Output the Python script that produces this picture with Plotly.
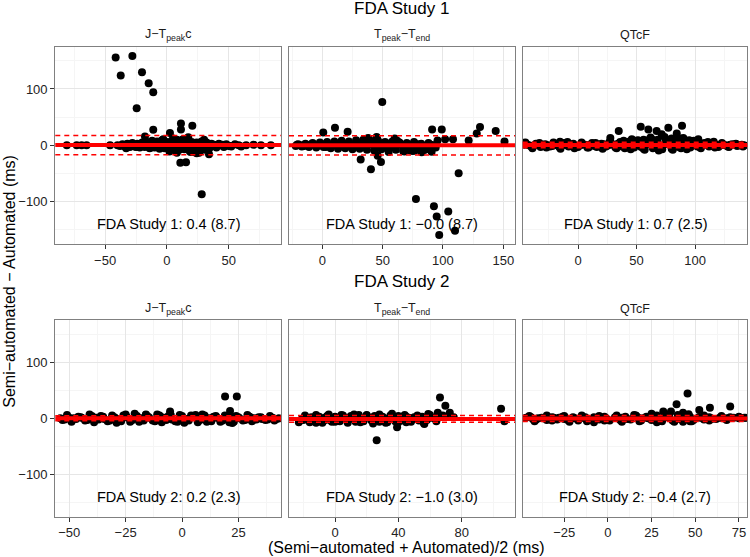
import plotly.graph_objects as go

# ---------------- data ----------------
# FDA Study 1, J-Tpeak c
j1_x = [-81, -73, -69, -65, -46,
        -36, -32, -28, -24, -20, -16, -12, -8, -4, 0, 4, 8, 12, 16, 20, 24, 28, 32, 36, 42, 48, 55,
        -34, -30, -26, -22, -18, -14, -10, -6, -2, 2, 6, 10, 14, 18, 22, 26, 30, 34, 40, 46, 52, 60,
        -40, -33, -27, -21, -15, -9, -3, 3, 9, 15, 21, 27, 33, 39, 45, 51, 58, 64, 70, 76, 84,
        -38, -31, -25, -19, -13, -7, -1, 5, 11, 17, 23, 29, 35, 38, 44, 50,
        5, 8, 13, 19, 24, 30, -3, 2, 28, 22, 26, -33, 34,
        -41.5, -37.4, -28, -20.2, -14.8, -11.1, -24.5, -11.1, -17.8, 2.4, 11.3, 11.3, 20.5, 17.2,
        10.8, 15.4, 28.1]
j1_y = [0, 0, 0, 0, 0,
        2, 3, 4, 3, 5, 6, 8, 7, 9, 6, 8, 10, 9, 7, 6, 5, 4, 5, 3, 3, 2, 2,
        -2, -3, -2, -4, -3, -5, -4, -6, -5, -7, -6, -8, -7, -9, -10, -11, -8, -6, -4, -3, -2, -2,
        0, 1, -1, 0, 1, -1, 2, -2, 1, 0, -1, 1, -2, 0, 1, -1, 0, 0, 1, 0, 0,
        -1, 2, -3, 3, -4, 4, -3, 5, -4, 4, -5, 3, -3, 1, 0, -1,
        12, -13, 11, -12, -14, 10, 11, -11, 7, -12, -13, -5, -16,
        155.7, 123.9, 158.6, 129.7, 110.3, 94.3, 66, 27.6, 15.9, 21.8, 38.9, 28.3, 34.7, 14.2,
        -30.8, -30.1, -86.7]

# FDA Study 1, Tpeak-Tend
tp1_x = [-20, -14, -8, -2, 4, 10, 16, 22, 28, 34, 40, 46, 52, 58, 64, 70, 76, 82, 88,
         -22, -17, -11, -5, 1, 7, 13, 19, 25, 31, 37, 43, 49, 55, 61, 67, 73, 79, 86, 94,
         -18, -10, -3, 5, 12, 20, 27, 35, 42, 50, 57, 65, 72, 80, 90,
         -21, -15, -9, -5, -1, 3, 9, 15, 21, 25, 29, 33, 39, 44, 47, 51, 55, 59, 63, 67, 71,
         75, 79, 84, 88, 92,
         38, 45, 55, 60, 68, 75, 83, 62, 85,
         0.8, 10.5, 21, 49.7, 31.8, 40.3, 45.9, 48.6, 91, 99, 77.6, 92.5, 94.8, 96.9, 104.4,
         110, 113, 121.3, 90.6, 128, 130.7, 143.7, 151, 101.8, 108.3, 95.5, 82.3, 76.8]
tp1_y = [2, 3, 4, 5, 6, 7, 8, 7, 9, 10, 8, 9, 6, 7, 5, 4, 6, 3, 4,
         -1, -2, -3, -4, -3, -5, -6, -5, -7, -6, -8, -9, -7, -6, -8, -10, -9, -5, -7, -4,
         0, 1, 0, -1, 1, 0, 2, -1, 1, 0, -2, 1, 0, -1, 1,
         1, -1, 2, -2, 3, -3, 2, -2, 3, -4, 4, -3, 4, -5, 5, -4, 3, -3, 2, -2, 1,
         -1, 2, -2, 1, 0,
         13, 15, -12, 12, -11, -10, -9, 8, -8,
         23, 31, 24, 77, -25, -42.5, -18.4, -29.6, 28, 28, -95, -108, -126, -159, -117.5,
         -151.7, -49.6, 8.8, -11.3, 21, 32.4, 25.3, 7, 10.6, 10.6, 8.8, -12.4, -9]

# FDA Study 1, QTcF
q1_x = [-44, -36, -28, -20, -12, -4, 4, 12, 20, 28, 36, 44, 52, 60, 68, 76, 84, 92, 100, 108,
        116, 124, 132, 140,
        -40, -32, -24, -16, -8, 0, 8, 16, 24, 32, 40, 48, 56, 64, 72, 80, 88, 96, 104, 112,
        120, 128, 136,
        -42, -30, -18, -6, 6, 18, 30, 42, 50, 58, 66, 74, 82, 90, 98, 110, 122, 134,
        -46, -38, -34, -26, -22, -14, -10, -2, 2, 10, 14, 22, 26, 34, 38, 46, 54, 62, 70, 78,
        86, 94, 102, 106, 114, 118, 126, 130, 138, 142,
        -45, -33, -21, -9, 3, 15, 27, 39, 51, 63, 75, 87, 99, 111, 123, 135,
        -39, -27, -15, -3, 9, 21, 33, 45, 57, 69, 81, 93, 105, 117, 129, 141,
        34.8, 53.6, 60.1, 67.2, 77.2, 88.9, 71.5, 84.4, 27.6, -15.4, 116, 102.8, 69.2, 62, 74,
        80, 90, 56, 46, 95]
q1_y = [2, 3, 2, 3, 4, 3, 2, 4, 3, 5, 6, 7, 8, 9, 10, 9, 8, 7, 6, 4,
        3, 2, 2, 1,
        -2, -3, -2, -3, -2, -3, -4, -3, -2, -4, -5, -4, -6, -5, -7, -6, -5, -4, -3, -2,
        -3, -2, -1,
        0, 1, 0, -1, 1, 0, 1, 2, 0, 1, 3, 2, 1, 2, 0, 1, 0, 1,
        1, -1, 1, 0, -1, 2, 0, -1, 0, 1, -1, 2, 0, 3, -2, 4, -3, 5, -4, 5,
        -3, 4, -2, 2, -1, 1, 0, 1, 0, 0,
        5, 4, 5, 6, 5, 4, 6, 8, 9, 11, 10, 12, 8, 6, 4, 3,
        -5, -4, -6, -5, -4, -6, -5, -7, -8, -9, -8, -7, -5, -4, -3, -2,
        25.3, 33, 28.3, 25.3, 31.2, 34.7, 19.5, 21.2, 12.9, 6.4, 6.4, 10.6, -7.1, 14, 15,
        12, 13, 10, 11, 9]

# FDA Study 2, J-Tpeak c
j2_x = [-50, -45, -40, -35, -30, -25, -20, -15, -10, -5, 0, 5, 10, 15, 20, 25, 30, 35, 40,
        -52, -47, -42, -37, -32, -27, -22, -17, -12, -7, -2, 3, 8, 13, 18, 23, 28, 33, 38, 42,
        -48, -38, -28, -18, -8, 2, 12, 22, 32,
        -54, -49.5, -44.5, -39.5, -34.5, -29.5, -24.5, -19.5, -14.5, -9.5, -4.5, 0.5, 5.5,
        10.5, 15.5, 20.5, 25.5, 30.5, 35.5, 40.5, 43,
        -46, -36, -26, -16, -6, 4, 14, 24, 34,
        -43, -33, -23, -13, -3, 7, 17, 27, 37,
        -51, -41, -31, -21, -11, -1, 9, 19, 29, 39,
        -49, -39, -29, -19, -9, 1, 11, 21, 31, 41,
        19.1, 24.3, 21.3, -5.3, 22.3, -53, -16, -25, 6]
j2_y = [1, 2, 4, 3, 2, 5, 4, 3, 5, 6, 4, 3, 5, 4, 3, 2, 3, 2, 1,
        -2, -1, -3, -2, -4, -5, -3, -4, -5, -3, -6, -4, -3, -5, -4, -6, -3, -2, -2, -1,
        0, 1, -1, 0, 1, -1, 0, 1, 0,
        0, -1, 1, 2, -1, 0, 2, -1, 1, 3, -2, 0, 2,
        -1, 1, -2, 0, 1, -1, 0, 0,
        3, 4, 5, 6, 4, 5, 3, 4, 2,
        -4, -5, -6, -4, -5, -7, -6, -4, -3,
        6, 7, 5, 8, 7, 6, 7, 5, 6, 4,
        -6, -7, -8, -6, -7, -8, -6, -7, -5, -4,
        39.1, 39.1, 13.1, 12, -8.2, -3, 7, 7, 6]

# FDA Study 2, Tpeak-Tend
tp2_x = [-15, -10, -5, 0, 5, 10, 15, 20, 25, 30, 35, 40, 45, 50, 55, 60, 70,
         -20, -13, -7, -2, 3, 8, 13, 18, 23, 28, 33, 38, 43, 48, 53, 58,
         -17, -9, -1, 7, 15, 23, 31, 39, 47, 55, 63,
         -21, -18.5, -14, -11.5, -6.5, -3.5, 1.5, 4, 9, 11.5, 16.5, 19, 24, 26.5, 31.5, 34,
         39, 41.5, 46.5, 49, 54, 57, 61, 64, 75,
         -19, -12, -4, 4, 12, 20, 28, 36, 44, 52, 60, 68,
         -16, -8, 0, 8, 16, 24, 32, 40, 48, 56, 64,
         66.3, 69.7, 64.9, 72.5, 104.9, 107, 56.4, 39.2, 58.9, 26.3, -22.9, -12, 45, 68]
tp2_y = [2, 3, 4, 3, 5, 4, 6, 5, 4, 3, 5, 4, 3, 2, 3, 2, 3,
         -3, -5, -4, -6, -5, -4, -6, -5, -4, -6, -7, -5, -4, -3, -4, -3,
         0, -1, 1, 0, -1, 1, 0, -1, 0, 1, 0,
         -1, 2, 0, -2, 1, -3, 0, 2, -1, 3, -2, 1, -3, 2, -1, 0,
         2, -2, 1, -1, 0, -2, 1, -1, 2,
         5, 6, 7, 6, 7, 6, 7, 8, 6, 5, 6, 4,
         -7, -8, -6, -8, -7, -9, -8, -7, -6, -8, -5,
         37.3, 22.6, 10.1, 10.1, 17.2, -5.3, -10, -16, 7.8, -39, -7.1, -8, -7, 5]

# FDA Study 2, QTcF
q2_x = [-44, -38, -32, -26, -20, -14, -8, -2, 4, 10, 16, 22, 28, 34, 40, 46, 52, 58, 64, 72, 78,
        -41, -35, -29, -23, -17, -11, -5, 1, 7, 13, 19, 25, 31, 37, 43, 49, 55,
        -40, -28, -16, -4, 8, 20, 32, 44, 56, 68,
        -47, -43, -37, -31, -25, -19, -13, -7, -1, 5, 11, 17, 23, 29, 35, 41, 47, 53, 59, 62,
        66, 70, 75, 79,
        -45, -35, -25, -15, -5, 5, 15, 25, 35, 45, 55, 65, 75,
        -42, -32, -22, -12, -2, 8, 18, 28, 38, 48, 58, 68,
        45.6, 39.3, 70, 58.4, 52.3, 31.7, 36.1, 25, 46.2, 59.4, -8, 16, 43, 47]
q2_y = [2, 1, 2, 3, 2, 1, 2, 3, 2, 3, 4, 3, 5, 4, 6, 3, 2, 2, 1, 1, 1,
        -2, -3, -2, -3, -4, -3, -2, -4, -3, -2, -4, -3, -5, -4, -6, -3, -2,
        0, 1, 0, -1, 1, 0, 1, 0, -1, 0,
        1, -1, 0, 1, -1, 0, 2, -1, 0, 1, -1, 2, 0, -2, 1, -1, 3, 1, 0, -1,
        0, 2, 0, 1,
        4, 5, 4, 5, 4, 5, 6, 5, 7, 6, 5, 4, 3,
        -5, -4, -6, -5, -4, -6, -5, -7, -6, -5, -4, -3,
        44.4, 24.9, 21.3, 19, 14.9, 12.4, 12.4, 8.3, 7.1, -1, -7, 5, 10, -5]

panel_titles = ["J−T<sub>peak</sub>c", "T<sub>peak</sub>−T<sub>end</sub>", "QTcF"]
study_names = ["FDA Study 1", "FDA Study 2"]
mean_diffs = [0.4, -0.0, 0.7, 0.2, -1.0, -0.4]
sd_diffs = [8.7, 8.7, 2.5, 2.3, 3.0, 2.7]

x_ticks = [[-50, 0, 50], [0, 50, 100, 150], [0, 50, 100],
           [-50, -25, 0, 25], [0, 40, 80], [-25, 0, 25, 50, 75]]
x_minor = [[-75, -25, 25, 75], [-25, 25, 75, 125], [-25, 25, 75, 125],
           [-37.5, -12.5, 12.5, 37.5], [-20, 20, 60, 100], [-37.5, -12.5, 12.5, 37.5, 62.5]]
x_ranges = [[-90.3, 92.2], [-27.6, 159.7], [-47.3, 144.7],
            [-56.2, 43.9], [-29.1, 113.7], [-48.8, 79.8]]
y_ticks = [-100, 0, 100]
y_minor = [-150, -50, 50, 150]
y_range = [-175, 175]

xs = [j1_x, tp1_x, q1_x, j2_x, tp2_x, q2_x]
ys = [j1_y, tp1_y, q1_y, j2_y, tp2_y, q2_y]

# ---------------- layout geometry ----------------
W, H = 750, 557
col_px = [(55.3, 281.0), (289.0, 515.0), (522.7, 747.3)]
row_px = [(46.7, 244.0), (320.0, 516.7)]

FONT = "Liberation Sans, Arial, Helvetica, sans-serif"

def fmt(v):
    return f"{v:.1f}".replace("-", "−")

def tick_txt(v):
    return str(v).replace("-", "−")

fig = go.Figure()
layout = dict(width=W, height=H, margin=dict(l=0, r=0, t=0, b=0),
              plot_bgcolor="white", paper_bgcolor="white", showlegend=False,
              font=dict(family=FONT, color="#222222"))
annotations = []
shapes = []

for i in range(6):
    r, c = divmod(i, 3)
    n = "" if i == 0 else str(i + 1)
    x0, x1 = col_px[c]
    yt, yb = row_px[r]
    fig.add_trace(go.Scatter(x=xs[i], y=ys[i], mode="markers", xaxis="x" + n, yaxis="y" + n,
                             marker=dict(color="black", size=8, line=dict(width=0)),
                             hoverinfo="x+y"))
    layout["xaxis" + n] = dict(
        domain=[x0 / W, x1 / W], anchor="y" + n, range=x_ranges[i],
        tickmode="array", tickvals=x_ticks[i], ticktext=[tick_txt(v) for v in x_ticks[i]],
        showgrid=True, gridcolor="#e6e6e6", gridwidth=1, zeroline=False,
        minor=dict(tickvals=x_minor[i], showgrid=True, gridcolor="#f5f5f5", gridwidth=1, ticks=""),
        showline=True, linecolor="#808080", linewidth=1.2, mirror=True,
        ticks="outside", ticklen=4, tickcolor="#333333", tickwidth=1,
        tickfont=dict(size=13, color="#222222", family=FONT), automargin=False)
    layout["yaxis" + n] = dict(
        domain=[1 - yb / H, 1 - yt / H], anchor="x" + n, range=y_range,
        tickmode="array", tickvals=y_ticks, ticktext=[tick_txt(v) for v in y_ticks],
        showgrid=True, gridcolor="#e6e6e6", gridwidth=1, zeroline=False,
        minor=dict(tickvals=y_minor, showgrid=True, gridcolor="#f5f5f5", gridwidth=1, ticks=""),
        showline=True, linecolor="#808080", linewidth=1.2, mirror=True,
        ticks="outside" if c == 0 else "", ticklen=4, tickcolor="#333333", tickwidth=1,
        showticklabels=(c == 0),
        tickfont=dict(size=13, color="#222222", family=FONT), automargin=False)

    m, s = mean_diffs[i], sd_diffs[i]
    for yv, w, d in [(m, 4, "solid"), (m + 1.96 * s, 1.5, "5px,4px"), (m - 1.96 * s, 1.5, "5px,4px")]:
        shapes.append(dict(type="line", xref="x" + n + " domain", x0=0, x1=1,
                           yref="y" + n, y0=yv, y1=yv,
                           line=dict(color="#ff0000", width=w, dash=d), layer="above"))
    annotations.append(dict(xref="x" + n + " domain", x=0.5, yref="y" + n, y=-140,
                            text=f"{study_names[r]}: {fmt(m)} ({fmt(s)})", showarrow=False,
                            font=dict(size=14.5, color="black", family=FONT),
                            xanchor="center", yanchor="middle"))
    annotations.append(dict(xref="paper", x=(x0 + x1) / 2 / W, yref="paper",
                            y=1 - (yt - 11.5) / H, text=panel_titles[c], showarrow=False,
                            font=dict(size=12.5, color="#1a1a1a", family=FONT),
                            xanchor="center", yanchor="middle"))

# row titles
annotations.append(dict(xref="paper", x=401.3 / W, yref="paper", y=1 - 9 / H, text=study_names[0],
                        showarrow=False, font=dict(size=17, color="black", family=FONT),
                        xanchor="center", yanchor="middle"))
annotations.append(dict(xref="paper", x=401.3 / W, yref="paper", y=1 - 281.5 / H, text=study_names[1],
                        showarrow=False, font=dict(size=17, color="black", family=FONT),
                        xanchor="center", yanchor="middle"))
# axis titles
annotations.append(dict(xref="paper", x=406 / W, yref="paper", y=1 - 547 / H,
                        text="(Semi−automated + Automated)/2 (ms)", showarrow=False,
                        font=dict(size=16, color="black", family=FONT),
                        xanchor="center", yanchor="middle"))
annotations.append(dict(xref="paper", x=10 / W, yref="paper", y=1 - 281.7 / H,
                        text="Semi−automated − Automated (ms)", showarrow=False, textangle=-90,
                        font=dict(size=16, color="black", family=FONT),
                        xanchor="center", yanchor="middle"))

layout["annotations"] = annotations
layout["shapes"] = shapes
fig.update_layout(**layout)
fig.write_html("out.html", config={"displayModeBar": False},
               post_script="document.body.style.margin='0px';document.body.style.overflow='hidden';")
